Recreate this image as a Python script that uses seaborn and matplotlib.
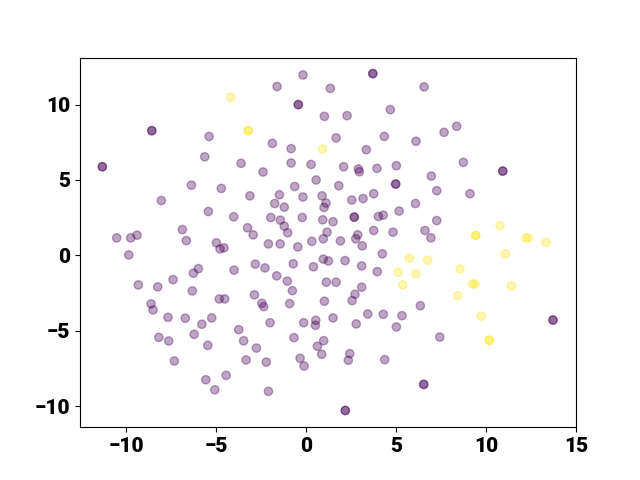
import matplotlib
matplotlib.use("Agg")
import matplotlib.pyplot as plt
import seaborn as sns
import numpy as np
import pandas as pd

# class 0 (purple) points; duplicated points appear darker in the reference
x0 = [-0.17, -1.61, 1.35, 6.56, 4.68, 1.02, 2.28, 1.67, 4.35, -1.87,
      -0.83, 3.35, 6.11, -0.83, 0.28, -3.61, -2.39, 2.09, 2.91, 2.96,
      3.94, 5.02, 0.56, -0.63, 1.82, -3.12, -1.48, -0.17, 0.89, 1.11,
      1.00, 2.54, 3.17, 3.76, -1.74, -1.21, 6.08, -1.96, -1.43, -0.21,
      0.93, 1.50, 4.02, 4.29, 5.17, -1.21, -1.02, -3.25, -2.94, 1.17,
      0.96, 2.87, 2.76, 3.76, 4.83, 0.32, 1.91, -2.09, -1.44, -0.46,
      3.12, -5.39, -5.63, -6.37, -4.71, -8.04, -5.43, -4.02, -6.87, -10.52,
      -9.74, -9.39, -6.65, -4.98, -4.56, -4.78, 8.37, 7.67, 8.74, 6.96,
      7.26, 9.11, 7.26, 6.61, 6.94, -9.85, -5.98, -6.26, -4.00, -9.32,
      -8.24, -7.39, -6.32, -4.82, -4.52, -8.61, -8.50, -7.67, -6.71, -5.79,
      -5.24, -3.74, -8.18, -7.63, -6.22, -5.46, -3.47, -7.32, -3.33, -5.57,
      -4.44, -5.07, 4.24, -2.82, -2.28, -0.71, 0.41, 0.96, 1.24, 2.17,
      3.09, 3.96, -1.63, -1.04, -0.76, 1.13, 1.67, 3.09, 2.72, 2.56,
      -2.87, -2.46, -2.35, -0.91, 1.02, 3.43, 4.29, 5.33, 5.02, -2.00,
      -0.13, 0.54, 0.52, 1.50, 2.79, -0.67, 0.98, 0.63, 0.87, -2.76,
      -2.21, -0.33, -0.11, 2.43, 2.35, 4.37, -2.09, 6.35, 7.43,
      3.71, 3.71, -0.43, -0.43, -8.57, -8.57, -11.32, -11.32, 4.98, 4.98,
      2.68, 2.68, 10.93, 10.93, 13.72, 13.72, 6.54, 6.54, 2.18, 2.18]
y0 = [11.97, 11.20, 11.08, 11.18, 9.67, 9.22, 9.27, 7.79, 7.89, 7.43,
      7.08, 7.01, 7.57, 6.13, 6.03, 6.11, 5.53, 5.88, 5.73, 5.55,
      5.77, 5.95, 5.00, 4.57, 4.62, 3.95, 4.02, 3.87, 3.95, 3.47,
      3.18, 3.67, 3.77, 4.09, 3.44, 3.20, 3.44, 2.51, 2.34, 2.51,
      2.36, 2.23, 2.58, 2.67, 2.94, 1.94, 1.50, 1.83, 1.36, 1.54,
      1.10, 1.36, 1.10, 1.65, 1.54, 0.93, 0.96, 0.76, 0.76, 0.56,
      0.63, 7.89, 6.54, 4.66, 4.44, 3.64, 2.91, 2.56, 1.71, 1.16,
      1.16, 1.34, 0.98, 0.83, 0.50, 0.43, 8.56, 8.16, 6.17, 5.26,
      4.29, 4.09, 2.31, 1.65, 1.16, 0.03, -0.88, -1.18, -0.98, -1.96,
      -2.09, -1.61, -2.36, -2.89, -2.89, -3.22, -3.62, -4.11, -4.17, -4.57,
      -4.15, -4.93, -5.44, -5.68, -5.24, -5.97, -5.67, -7.01, -6.94, -8.25,
      -7.96, -8.92, 0.10, -0.58, -0.83, -0.56, -0.76, -0.25, -0.37, -0.35,
      -0.70, -1.08, -1.36, -1.71, -2.34, -1.78, -1.78, -2.11, -2.58, -3.00,
      -2.62, -3.18, -3.40, -3.20, -3.04, -3.89, -3.91, -4.00, -4.75, -4.47,
      -4.47, -4.31, -4.64, -4.15, -4.55, -5.46, -5.66, -6.03, -6.56, -6.15,
      -7.08, -6.83, -7.34, -6.52, -6.96, -6.92, -9.02, -3.34, -5.42,
      12.06, 12.06, 10.00, 10.00, 8.27, 8.27, 5.88, 5.88, 4.73, 4.73,
      2.54, 2.54, 5.59, 5.59, -4.29, -4.29, -8.56, -8.56, -10.29, -10.29]

# class 1 (yellow) points
x1 = [-4.18, 0.91, 10.78, 13.33, 5.74, 5.13, 6.11, 5.37, 6.76, 11.07,
      8.56, 9.24, 9.39, 11.41, 8.41, 9.74,
      -3.21, -3.21, 9.43, 9.43, 12.22, 12.36, 10.18, 10.18]
y1 = [10.49, 7.06, 1.96, 0.85, -0.19, -1.12, -1.20, -1.96, -0.32, 0.10,
      -0.90, -1.89, -1.91, -2.03, -2.69, -4.04,
      8.27, 8.27, 1.32, 1.32, 1.16, 1.16, -5.63, -5.63]

df = pd.DataFrame({
    "x": x0 + x1,
    "y": y0 + y1,
    "label": [0] * len(x0) + [1] * len(x1),
})

cmap = plt.get_cmap("viridis")
palette = {0: cmap(0.0), 1: cmap(1.0)}

plt.rcParams["font.family"] = ["Roboto", "DejaVu Sans"]

fig, ax = plt.subplots(figsize=(6.4, 4.8), dpi=100)
sns.scatterplot(data=df, x="x", y="y", hue="label", palette=palette,
                alpha=0.35, s=36, linewidth=1, edgecolor="face",
                legend=False, ax=ax)
ax.set_xlabel("")
ax.set_ylabel("")
ax.set_xticks([-10, -5, 0, 5, 10, 15])
ax.set_yticks([-10, -5, 0, 5, 10])
ax.tick_params(labelsize=15)
for lab in ax.get_xticklabels() + ax.get_yticklabels():
    lab.set_fontweight("black")
ax.set_xlim(-12.56, 15.0)
ax.set_ylim(-11.4, 13.12)
fig.savefig("out.png", dpi=100)
